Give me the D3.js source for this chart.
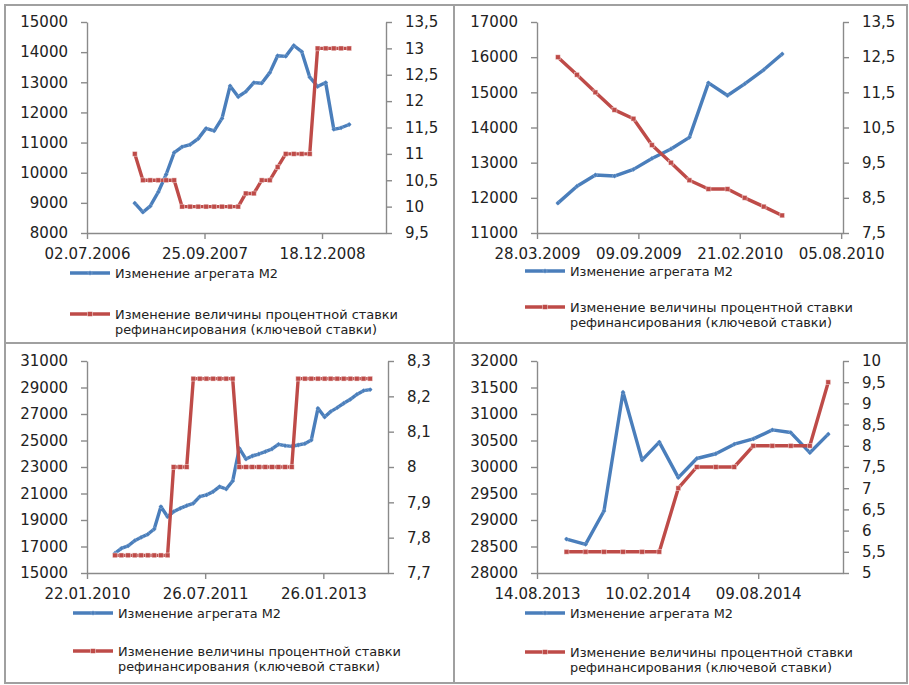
<!DOCTYPE html>
<html><head><meta charset="utf-8">
<script src="https://cdn.jsdelivr.net/npm/d3@7"></script>
<style>
body{margin:0;background:#fff}
svg{display:block}
text{font-family:"DejaVu Sans",sans-serif}
</style>
</head><body>
<svg id="c" width="909" height="685"></svg>
<script>
// ---------- legend texts ----------
const legendM2 = "Изменение агрегата М2";
const legendRate = ["Изменение величины процентной ставки", "рефинансирования (ключевой ставки)"];

// ---------- Panel 1 (2007 – 2009) ----------
const p1Months = ["2007-01","2007-02","2007-03","2007-04","2007-05","2007-06","2007-07","2007-08","2007-09","2007-10","2007-11","2007-12",
                  "2008-01","2008-02","2008-03","2008-04","2008-05","2008-06","2008-07","2008-08","2008-09","2008-10","2008-11","2008-12",
                  "2009-01","2009-02","2009-03","2009-04"];
const p1M2 = [8990, 8690, 8890, 9360, 9940, 10670, 10860, 10930, 11130, 11470, 11390, 11800,
              12880, 12520, 12690, 12990, 12970, 13320, 13880, 13860, 14220, 14020, 13170, 12860,
              12990, 11440, 11490, 11600];
const p1Rate = [11, 10.5, 10.5, 10.5, 10.5, 10.5, 10, 10, 10, 10, 10, 10,
                10, 10, 10.25, 10.25, 10.5, 10.5, 10.75, 11, 11, 11, 11, 13,
                13, 13, 13, 13];
const p1XTicks = ["02.07.2006", "25.09.2007", "18.12.2008"];
const p1XEnd = "20.08.2009";
const p1YLeft = [8000, 9000, 10000, 11000, 12000, 13000, 14000, 15000];
const p1YRight = [9.5, 10, 10.5, 11, 11.5, 12, 12.5, 13, 13.5];

// ---------- Panel 2 (2009 – 2010) ----------
const p2Months = ["2009-05","2009-06","2009-07","2009-08","2009-09","2009-10","2009-11","2009-12",
                  "2010-01","2010-02","2010-03","2010-04","2010-05"];
const p2M2 = [11850, 12330, 12650, 12620, 12810, 13120, 13390, 13720, 15270, 14910, 15240, 15640, 16090];
const p2Rate = [12.5, 12, 11.5, 11, 10.75, 10, 9.5, 9, 8.75, 8.75, 8.5, 8.25, 8];
const p2XTicks = ["28.03.2009", "09.09.2009", "21.02.2010", "05.08.2010"];
const p2XEnd = "08.08.2010";
const p2YLeft = [11000, 12000, 13000, 14000, 15000, 16000, 17000];
const p2YRight = [7.5, 8.5, 9.5, 10.5, 11.5, 12.5, 13.5];

// ---------- Panel 3 (2010 – 2013) ----------
const p3Months = ["2010-06","2010-07","2010-08","2010-09","2010-10","2010-11","2010-12",
                  "2011-01","2011-02","2011-03","2011-04","2011-05","2011-06","2011-07","2011-08","2011-09","2011-10","2011-11","2011-12",
                  "2012-01","2012-02","2012-03","2012-04","2012-05","2012-06","2012-07","2012-08","2012-09","2012-10","2012-11","2012-12",
                  "2013-01","2013-02","2013-03","2013-04","2013-05","2013-06","2013-07","2013-08","2013-09"];
const p3M2 = [16490, 16860, 17040, 17440, 17690, 17920, 18320,
              20010, 19250, 19630, 19880, 20080, 20260, 20760, 20890, 21140, 21520, 21340, 21940,
              24410, 23600, 23830, 23980, 24160, 24360, 24710, 24610, 24560, 24660, 24760, 25030,
              27430, 26770, 27180, 27480, 27810, 28110, 28480, 28760, 28840];
const p3Rate = [7.75, 7.75, 7.75, 7.75, 7.75, 7.75, 7.75,
                7.75, 7.75, 8, 8, 8, 8.25, 8.25, 8.25, 8.25, 8.25, 8.25, 8.25,
                8, 8, 8, 8, 8, 8, 8, 8, 8, 8.25, 8.25, 8.25,
                8.25, 8.25, 8.25, 8.25, 8.25, 8.25, 8.25, 8.25, 8.25];
const p3XTicks = ["22.01.2010", "26.07.2011", "26.01.2013"];
const p3XEnd = "23.11.2013";
const p3YLeft = [15000, 17000, 19000, 21000, 23000, 25000, 27000, 29000, 31000];
const p3YRight = [7.7, 7.8, 7.9, 8, 8.1, 8.2, 8.3];

// ---------- Panel 4 (2013 – 2014) ----------
const p4Months = ["2013-10","2013-11","2013-12",
                  "2014-01","2014-02","2014-03","2014-04","2014-05","2014-06","2014-07","2014-08","2014-09","2014-10","2014-11","2014-12"];
const p4M2 = [28640, 28540, 29170, 31410, 30130, 30470, 29800, 30160, 30250, 30430, 30530, 30700, 30650, 30270, 30620];
const p4Rate = [5.5, 5.5, 5.5, 5.5, 5.5, 5.5, 7, 7.5, 7.5, 7.5, 8, 8, 8, 8, 9.5];
const p4XTicks = ["14.08.2013", "10.02.2014", "09.08.2014"];
const p4XEnd = "25.12.2014";
const p4YLeft = [28000, 28500, 29000, 29500, 30000, 30500, 31000, 31500, 32000];
const p4YRight = [5, 5.5, 6, 6.5, 7, 7.5, 8, 8.5, 9, 9.5, 10];

// ---------- styles ----------
const BLUE = "#4a7ebb", RED = "#be4b48", AXIS = "#8a8a8a", BORDER = "#a0a0a0", TXT = "#222";

const parseMonth = d3.utcParse("%Y-%m");
const parseDay = d3.utcParse("%d.%m.%Y");
const fmtDay = d3.utcFormat("%d.%m.%Y");
const fmtRate = v => String(+v.toFixed(2)).replace(".", ",");

const panels = [
  {months:p1Months, m2:p1M2, rate:p1Rate, xt:p1XTicks, xe:p1XEnd, yl:p1YLeft, yr:p1YRight,
   box:{l:87, r:386, t:22, b:233}, leg:{x:70, y1:273, y2:314}},
  {months:p2Months, m2:p2M2, rate:p2Rate, xt:p2XTicks, xe:p2XEnd, yl:p2YLeft, yr:p2YRight,
   box:{l:537, r:843, t:22, b:233}, leg:{x:525, y1:271, y2:307}},
  {months:p3Months, m2:p3M2, rate:p3Rate, xt:p3XTicks, xe:p3XEnd, yl:p3YLeft, yr:p3YRight,
   box:{l:87, r:388, t:361, b:573}, leg:{x:73, y1:613, y2:651}},
  {months:p4Months, m2:p4M2, rate:p4Rate, xt:p4XTicks, xe:p4XEnd, yl:p4YLeft, yr:p4YRight,
   box:{l:537, r:843, t:361, b:573}, leg:{x:525, y1:613, y2:652}}
];

const svg = d3.select("#c");

// panel borders
const bord = svg.append("g").attr("fill", "none").attr("stroke", BORDER).attr("stroke-width", 2);
bord.append("rect").attr("x", 5).attr("y", 5).attr("width", 902).attr("height", 678);
bord.append("line").attr("x1", 454).attr("x2", 454).attr("y1", 5).attr("y2", 683);
bord.append("line").attr("x1", 5).attr("x2", 907).attr("y1", 343).attr("y2", 343);

function styleAxis(g) {
  g.select(".domain").attr("stroke", AXIS).attr("stroke-width", 1.4);
  g.selectAll(".tick line").attr("stroke", AXIS).attr("stroke-width", 1.4);
  g.selectAll(".tick text").attr("fill", TXT).attr("font-size", 15)
    .attr("font-family", "DejaVu Sans, sans-serif");
}

function marker(g, cx, cy, color, shape) {
  if (shape === "sq") {
    g.append("rect").attr("x", cx - 2.4).attr("y", cy - 2.4).attr("width", 4.8).attr("height", 4.8)
      .attr("fill", color).attr("stroke", "rgba(255,255,255,0.55)").attr("stroke-width", 0.8);
  } else {
    g.append("path").attr("d", `M${cx},${cy-2.4}L${cx+2.4},${cy}L${cx},${cy+2.4}L${cx-2.4},${cy}Z`)
      .attr("fill", color).attr("stroke", "rgba(255,255,255,0.35)").attr("stroke-width", 0.6);
  }
}

panels.forEach(p => {
  const {l, r, t, b} = p.box;
  const x = d3.scaleUtc().domain([parseDay(p.xt[0]), parseDay(p.xe)]).range([l, r]);
  const yL = d3.scaleLinear().domain([p.yl[0], p.yl[p.yl.length - 1]]).range([b, t]);
  const yR = d3.scaleLinear().domain([p.yr[0], p.yr[p.yr.length - 1]]).range([b, t]);

  const g = svg.append("g");

  g.append("g").attr("transform", `translate(${l},0)`)
    .call(d3.axisLeft(yL).tickValues(p.yl).tickSize(6).tickSizeOuter(0).tickPadding(13).tickFormat(d3.format("d")))
    .call(styleAxis);
  g.append("g").attr("transform", `translate(${r},0)`)
    .call(d3.axisRight(yR).tickValues(p.yr).tickSize(6).tickSizeOuter(0).tickPadding(13).tickFormat(fmtRate))
    .call(styleAxis);
  g.append("g").attr("transform", `translate(0,${b})`)
    .call(d3.axisBottom(x).tickValues(p.xt.map(parseDay)).tickSize(6).tickSizeOuter(0).tickPadding(9).tickFormat(fmtDay))
    .call(styleAxis);

  const data = p.months.map((m, i) => ({date: parseMonth(m), m2: p.m2[i], rate: p.rate[i]}));

  g.append("path").datum(data)
    .attr("fill", "none").attr("stroke", BLUE).attr("stroke-width", 3.4)
    .attr("stroke-linejoin", "round").attr("stroke-linecap", "round")
    .attr("d", d3.line().x(d => x(d.date)).y(d => yL(d.m2)));
  const mb = g.append("g");
  data.forEach(d => marker(mb, x(d.date), yL(d.m2), BLUE, "dia"));

  g.append("path").datum(data)
    .attr("fill", "none").attr("stroke", RED).attr("stroke-width", 3.4)
    .attr("stroke-linejoin", "round").attr("stroke-linecap", "round")
    .attr("d", d3.line().x(d => x(d.date)).y(d => yR(d.rate)));
  const mr = g.append("g");
  data.forEach(d => marker(mr, x(d.date), yR(d.rate), RED, "sq"));

  const lg = g.append("g");
  const lx = p.leg.x;
  lg.append("line").attr("x1", lx).attr("x2", lx + 40).attr("y1", p.leg.y1).attr("y2", p.leg.y1)
    .attr("stroke", BLUE).attr("stroke-width", 3.4);
  marker(lg, lx + 20, p.leg.y1, BLUE, "dia");
  lg.append("text").attr("x", lx + 45).attr("y", p.leg.y1).attr("dy", "0.36em")
    .attr("font-size", 12.5).attr("fill", TXT)
    .attr("textLength", 163).attr("lengthAdjust", "spacingAndGlyphs").text(legendM2);
  lg.append("line").attr("x1", lx).attr("x2", lx + 40).attr("y1", p.leg.y2).attr("y2", p.leg.y2)
    .attr("stroke", RED).attr("stroke-width", 3.4);
  marker(lg, lx + 20, p.leg.y2, RED, "sq");
  lg.append("text").attr("x", lx + 45).attr("y", p.leg.y2).attr("dy", "0.36em")
    .attr("font-size", 12.5).attr("fill", TXT)
    .attr("textLength", 283).attr("lengthAdjust", "spacingAndGlyphs").text(legendRate[0]);
  lg.append("text").attr("x", lx + 45).attr("y", p.leg.y2 + 15).attr("dy", "0.36em")
    .attr("font-size", 12.5).attr("fill", TXT)
    .attr("textLength", 262).attr("lengthAdjust", "spacingAndGlyphs").text(legendRate[1]);
});
</script>
</body></html>
